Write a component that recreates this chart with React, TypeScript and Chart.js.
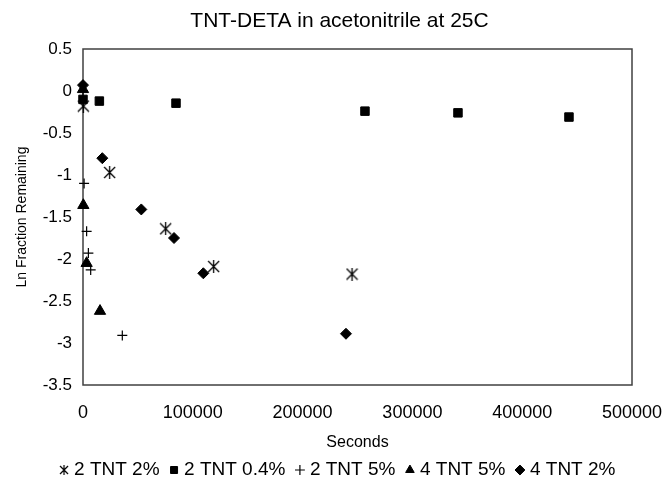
import React, { useEffect, useRef } from 'react';
import { Chart, registerables } from 'chart.js';

Chart.register(...registerables);

const chartTitle = 'TNT-DETA in acetonitrile at 25C';
const xTitle = 'Seconds';
const yTitle = 'Ln Fraction Remaining';
const xTickValues = [0, 100000, 200000, 300000, 400000, 500000];
const yTickValues = [0.5, 0, -0.5, -1, -1.5, -2, -2.5, -3, -3.5];
const seriesNames = ['2 TNT 2%', '2 TNT 0.4%', '2 TNT 5%', '4 TNT 5%', '4 TNT 2%'];

// 2 TNT 2% (asterisk)
const s1Seconds = [300, 24300, 75300, 119000, 245000];
const s1Ln = [-0.18, -0.97, -1.64, -2.09, -2.18];
// 2 TNT 0.4% (square)
const s2Seconds = [0, 14900, 84700, 256800, 341500, 442600];
const s2Ln = [-0.1, -0.12, -0.145, -0.24, -0.26, -0.31];
// 2 TNT 5% (plus)
const s3Seconds = [0, 1000, 3300, 4900, 7000, 35800];
const s3Ln = [0, -1.1, -1.67, -1.93, -2.13, -2.91];
// 4 TNT 5% (triangle)
const s4Seconds = [0, 300, 3300, 15500];
const s4Ln = [0.02, -1.36, -2.05, -2.62];
// 4 TNT 2% (diamond)
const s5Seconds = [0, 17600, 53100, 82900, 109600, 239500];
const s5Ln = [0.07, -0.8, -1.41, -1.75, -2.17, -2.89];

const FONT = "'Liberation Sans', Arial, sans-serif";

function pts(xs: number[], ys: number[]) {
  return xs.map((x, i) => ({ x, y: ys[i] }));
}

function makeAsterisk(size: number, lw: number) {
  const c = document.createElement('canvas');
  c.width = size;
  c.height = size;
  const ctx = c.getContext('2d')!;
  ctx.strokeStyle = '#000';
  ctx.lineWidth = lw;
  const m = 1;
  ctx.beginPath();
  ctx.moveTo(m, m);
  ctx.lineTo(size - m, size - m);
  ctx.moveTo(size - m, m);
  ctx.lineTo(m, size - m);
  ctx.moveTo(size / 2, 0);
  ctx.lineTo(size / 2, size);
  ctx.stroke();
  return c;
}

const framePlugin = {
  id: 'frame',
  beforeDatasetsDraw(chart: any) {
    const { ctx, chartArea } = chart;
    ctx.save();
    ctx.strokeStyle = '#404040';
    ctx.lineWidth = 1.5;
    ctx.strokeRect(chartArea.left, chartArea.top, chartArea.right - chartArea.left, chartArea.bottom - chartArea.top);
    ctx.restore();
  },
};

export default function App() {
  const ref = useRef<HTMLCanvasElement | null>(null);

  useEffect(() => {
    if (!ref.current) return;
    const plotAsterisk = makeAsterisk(13, 1.3);
    const legendAsterisk = makeAsterisk(10, 1.2);
    const base = {
      backgroundColor: '#000',
      borderColor: '#000',
      borderWidth: 1,
      showLine: false,
      clip: false as any,
    };
    const chart = new Chart(ref.current, {
      type: 'scatter',
      data: {
        datasets: [
          { ...base, label: seriesNames[0], data: pts(s1Seconds, s1Ln), pointStyle: plotAsterisk as any, pointRadius: 6 },
          { ...base, label: seriesNames[1], data: pts(s2Seconds, s2Ln), pointStyle: 'rect', pointRadius: 6 },
          { ...base, label: seriesNames[2], data: pts(s3Seconds, s3Ln), pointStyle: 'cross', pointRadius: 5, borderWidth: 1.2 },
          { ...base, label: seriesNames[3], data: pts(s4Seconds, s4Ln), pointStyle: 'triangle', pointRadius: 6.5 },
          { ...base, label: seriesNames[4], data: pts(s5Seconds, s5Ln), pointStyle: 'rectRot', pointRadius: 5.5 },
        ],
      },
      options: {
        responsive: false,
        animation: false,
        events: [],
        layout: { padding: { left: 13, right: 0, top: 0, bottom: -5.5 } },
        plugins: {
          tooltip: { enabled: false },
          title: {
            display: true,
            text: chartTitle,
            color: '#000',
            font: { family: FONT, size: 21, weight: 'normal' },
            padding: { top: 9, bottom: 14.8 },
          },
          legend: {
            display: true,
            position: 'bottom',
            labels: {
              usePointStyle: true,
              boxWidth: 1,
              boxHeight: 7,
              padding: 14,
              color: '#000',
              font: { family: FONT, size: 19 },
              generateLabels: (c: any) => {
                const items = (Chart.defaults.plugins.legend.labels as any).generateLabels(c);
                items[0].pointStyle = legendAsterisk;
                return items;
              },
            },
          },
        },
        scales: {
          x: {
            type: 'linear',
            min: 0,
            max: 500000,
            grid: { display: false, drawTicks: false },
            border: { display: false },
            afterBuildTicks: (s: any) => {
              s.ticks = xTickValues.map((v) => ({ value: v }));
            },
            afterFit: (s: any) => {
              s.height = 61.5;
              s.paddingRight = 34;
            },
            ticks: {
              color: '#000',
              padding: 17.7,
              font: { family: FONT, size: 18 },
              callback: (v: any) => String(v),
            },
            title: {
              display: true,
              text: xTitle,
              color: '#000',
              font: { family: FONT, size: 16 },
              padding: { top: 8.6, bottom: -5.6 },
            },
          },
          y: {
            type: 'linear',
            min: -3.5,
            max: 0.5,
            grid: { display: false, drawTicks: false },
            border: { display: false },
            afterBuildTicks: (s: any) => {
              s.ticks = yTickValues.map((v) => ({ value: v }));
            },
            afterFit: (s: any) => {
              s.width = 70;
            },
            ticks: {
              color: '#000',
              padding: 11,
              font: { family: FONT, size: 17 },
              callback: (v: any) => String(v),
            },
            title: {
              display: true,
              text: yTitle,
              color: '#000',
              font: { family: FONT, size: 14 },
              padding: { top: 0.6, bottom: 0 },
            },
          },
        },
      },
      plugins: [framePlugin],
    });
    return () => chart.destroy();
  }, []);

  return (
    <div style={{ position: 'fixed', left: 0, top: 0, width: 666, height: 484, background: '#fff' }}>
      <canvas ref={ref} width={666} height={484} style={{ display: 'block' }} />
    </div>
  );
}
